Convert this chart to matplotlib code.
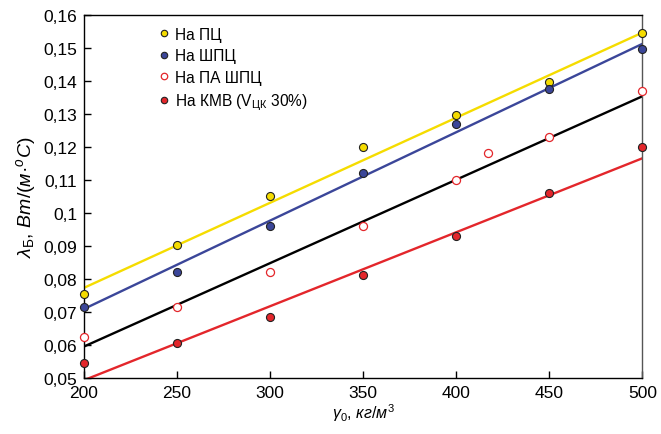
import matplotlib
matplotlib.use('Agg')
import matplotlib.pyplot as plt
from matplotlib.ticker import FuncFormatter, MultipleLocator

plt.rcParams['font.family'] = ['Liberation Sans', 'DejaVu Sans']
plt.rcParams['mathtext.fontset'] = 'custom'
plt.rcParams['mathtext.rm'] = 'Liberation Sans'
plt.rcParams['mathtext.it'] = 'Liberation Sans:italic'

# density, kg/m3
density = [200, 250, 300, 350, 400, 450, 500]

# thermal conductivity per binder
pc = [0.0753, 0.0902, 0.1051, 0.1200, 0.1297, 0.1397, 0.1545]
shpc = [0.0714, 0.0822, 0.0962, 0.1121, 0.1270, 0.1377, 0.1497]
pa_density = [200, 250, 300, 350, 400, 417, 450, 500]
pa_shpc = [0.0623, 0.0714, 0.0822, 0.0962, 0.1100, 0.1183, 0.1229, 0.1369]
kmv = [0.0545, 0.0605, 0.0685, 0.0812, 0.0931, 0.1060, 0.1200]

# trend lines (value at 200 and at 500)
fit_x = [200, 500]
pc_fit = [0.0773, 0.1547]
shpc_fit = [0.0709, 0.1513]
pa_fit = [0.0595, 0.1354]
kmv_fit = [0.0493, 0.1166]

yellow = '#f5dc00'
blue = '#3b4699'
red = '#e3262b'

fig = plt.figure(figsize=(6.61, 4.35), dpi=100)
ax = fig.add_axes([0.127, 0.129, 0.845, 0.834])

ax.plot(fit_x, pc_fit, color=yellow, lw=1.7, zorder=2)
ax.plot(fit_x, shpc_fit, color=blue, lw=1.7, zorder=2)
ax.plot(fit_x, pa_fit, color='black', lw=1.7, zorder=2)
ax.plot(fit_x, kmv_fit, color=red, lw=1.7, zorder=2)

mk = dict(marker='o', ms=5.8, ls='none', clip_on=False, zorder=3)
ax.plot(density, pc, mfc=yellow, mec='#222222', mew=0.8, label='На ПЦ', **mk)
ax.plot(density, shpc, mfc=blue, mec='#222222', mew=0.8, label='На ШПЦ', **mk)
ax.plot(pa_density, pa_shpc, mfc='white', mec=red, mew=0.9, label='На ПА ШПЦ', **mk)
ax.plot(density, kmv, mfc=red, mec='#222222', mew=0.8,
        label='На КМВ (V$_{\\rm ЦК}$ 30%)', **mk)

ax.set_xlim(200, 500)
ax.set_ylim(0.05, 0.16)
ax.xaxis.set_major_locator(MultipleLocator(50))
ax.yaxis.set_major_locator(MultipleLocator(0.01))
ax.yaxis.set_major_formatter(FuncFormatter(
    lambda v, p: f'{v:.2f}'.rstrip('0').replace('.', ',')))
ax.tick_params(direction='in', length=5, width=1, labelsize=12.5, pad=5,
               top=False, right=False)
for s in ax.spines.values():
    s.set_linewidth(1)
ax.spines['right'].set_color('#555555')

ax.set_xlabel(r'$\gamma_0$, $\mathit{кг/м^3}$', fontsize=11.5, labelpad=1)
ax.set_ylabel(r'$\lambda_{\rm Б}$, $\mathit{Вт/(м·^oC)}$', fontsize=14, labelpad=4)

ax.legend(loc='upper left', bbox_to_anchor=(0.119, 0.985), frameon=False,
          fontsize=11.2, handletextpad=0.3, labelspacing=0.42, borderaxespad=0,
          handlelength=0.9, markerscale=0.8)

fig.savefig('out.png', dpi=100)
